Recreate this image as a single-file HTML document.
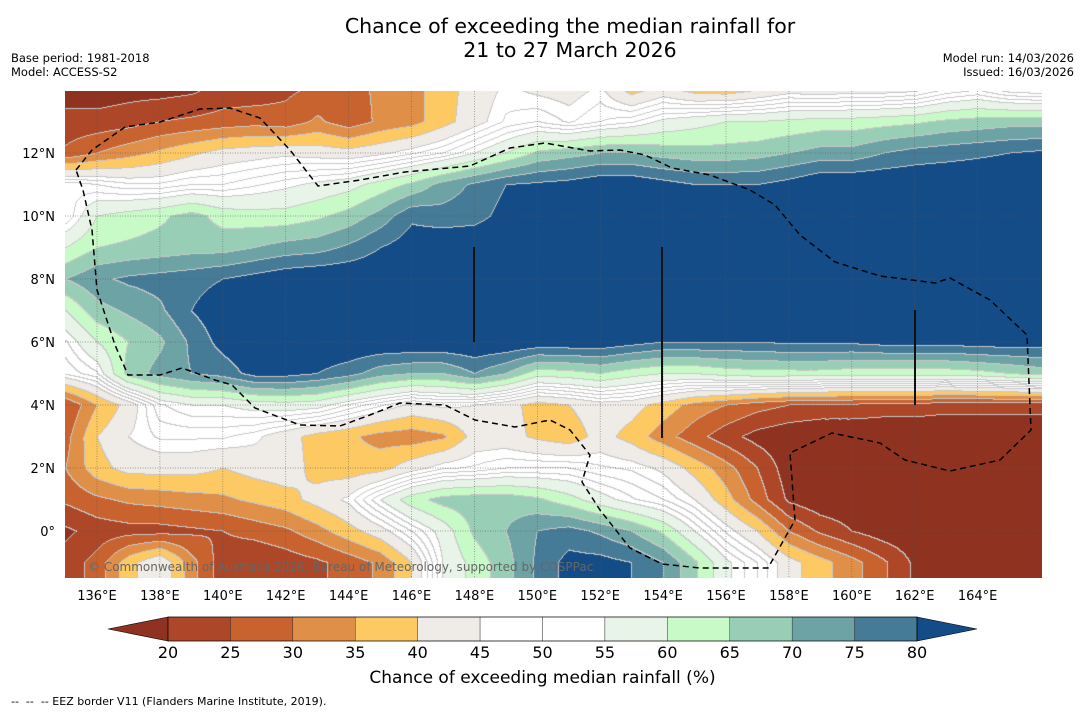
<!DOCTYPE html>
<html><head><meta charset="utf-8">
<style>
html,body{margin:0;padding:0;background:#fff;}
body{width:1085px;height:713px;position:relative;overflow:hidden;font-family:"DejaVu Sans","Liberation Sans",sans-serif;}
#map{position:absolute;left:65px;top:91px;}
#ov{position:absolute;left:0;top:0;}
.t{position:absolute;white-space:nowrap;color:#000;}
</style></head>
<body>
<div class="t" style="left:0;width:1140px;top:14px;text-align:center;font-size:20.5px;line-height:24px;">Chance of exceeding the median rainfall for<br>21 to 27 March 2026</div>
<div class="t" style="left:11px;top:51px;font-size:11.5px;line-height:14px;">Base period: 1981-2018<br>Model: ACCESS-S2</div>
<div class="t" style="right:11px;top:51px;font-size:11.5px;line-height:14px;text-align:right;">Model run: 14/03/2026<br>Issued: 16/03/2026</div>
<canvas id="map" width="977" height="487"></canvas>
<svg id="ov" width="1085" height="713"></svg>
<div class="t" style="left:0;width:1085px;text-align:center;top:668px;font-size:17px;">Chance of exceeding median rainfall (%)</div>
<div class="t" style="left:11px;top:695px;font-size:11px;">--&nbsp; --&nbsp; -- EEZ border V11 (Flanders Marine Institute, 2019).</div>
<script>
const lons=[135,136,137,138,139,140,141,142,143,144,145,146,147,148,149,150,151,152,153,154,155,156,157,158,159,160,161,162,163,164,165,166];
const lats=[14,13,12,11,10,9,8,7,6,5,4,3,2,1,0,-1];
const row14=[17,17,18,18,19,22,22,24,26,28,31,33,38,42,46,44,43,46,38,42,38,37,40,43,42,43,43,44,48,50,46,45];
const row13=[22,22,23,25,26,27,28,27,31,27,31,33,38,43,48,50,47,50,52,56,58,60,60,61,62,62,63,64,66,67,68,68];
const row12=[26,30,33,36,39,42,43,44,43,42,44,47,50,55,60,66,68,70,70,68,67,67,68,70,72,72,75,77,78,79,80,81];
const row11=[52,50,48,48,50,50,52,54,56,58,62,66,72,76,80,81,82,84,84,82,80,80,80,82,85,85,85,85,85,85,85,85];
const row10=[50,60,62,64,67,63,62,62,64,67,72,79,77,78,82,85,85,85,85,85,85,85,85,85,85,85,85,85,85,85,85,85];
const row9=[60,65,66,67,68,68,70,72,73,76,80,83,85,85,85,85,85,85,85,85,85,85,85,85,85,85,85,85,85,85,85,85];
const row8=[70,74,76,77,78,80,82,84,85,85,85,85,85,85,85,85,85,85,85,85,85,85,85,85,85,85,85,85,85,85,85,85];
const row7=[60,68,71,74,80,84,85,85,85,85,85,85,85,85,85,85,85,85,85,85,85,85,85,85,85,85,85,85,85,85,85,85];
const row6=[52,60,65,69,76,82,85,85,85,85,85,85,85,85,85,84,84,84,82,80,80,80,80,81,81,81,82,82,82,83,83,83];
const row5=[48,52,67,72,75,77,82,82,80,77,72,70,70,75,70,62,63,65,62,60,60,62,63,63,63,62,62,62,62,63,65,67];
const row4=[25,35,42,52,55,55,57,58,57,52,48,44,46,45,42,38,40,43,42,38,33,30,27,25,24,24,23,23,22,22,22,22];
const row3=[28,40,45,48,48,48,46,42,38,36,33,32,34,42,42,39,37,42,38,32,27,22,18,16,15,15,15,15,15,15,15,15];
const row2=[30,38,42,42,42,40,42,43,38,37,38,43,47,48,50,50,50,48,47,44,38,32,25,17,15,15,15,15,15,15,15,15];
const row1=[26,29,31,32,33,34,36,38,42,46,55,63,67,68,68,66,62,57,53,50,45,37,28,19,16,16,16,16,16,16,16,16];
const row0=[19,22,23,23,24,25,27,29,33,38,43,50,57,66,70,75,77,74,70,64,55,47,40,30,24,20,17,16,16,16,16,16];
const rowM1=[22,27,38,45,32,22,20,22,24,27,31,40,55,62,68,76,82,82,80,75,66,56,50,42,37,32,26,19,17,16,16,16];
const levels=[20,25,30,35,40,45,50,55,60,65,70,75,80];
const colors=['#8f3320','#ad4727','#c8622f','#df8f47','#fdc963','#efebe6','#ffffff','#ffffff','#e8f4e8','#c8fac8','#99ceb6','#6ea3a6','#467b98','#144c87'];
const lonTicks=[136,138,140,142,144,146,148,150,152,154,156,158,160,162,164];
const latTicks=[12,10,8,6,4,2,0];

const grid=[row14,row13,row12,row11,row10,row9,row8,row7,row6,row5,row4,row3,row2,row1,row0,rowM1];
const xOf=lon=>97+(lon-136)*31.45;
const yOf=lat=>531-lat*31.5;
function cls(v){let c=0;for(const l of levels){if(v>=l)c++;}return c;}
function hex(h){return [parseInt(h.slice(1,3),16),parseInt(h.slice(3,5),16),parseInt(h.slice(5,7),16)];}
const rgb=colors.map(hex);
function val(lon,lat){
  let fi=(lon-lons[0]);fi=Math.max(0,Math.min(lons.length-1.0001,fi));
  let fj=(lats[0]-lat);fj=Math.max(0,Math.min(lats.length-1.0001,fj));
  const i=Math.floor(fi),j=Math.floor(fj),a=fi-i,b=fj-j;
  const v00=grid[j][i],v10=grid[j][i+1],v01=grid[j+1][i],v11=grid[j+1][i+1];
  return v00*(1-a)*(1-b)+v10*a*(1-b)+v01*(1-a)*b+v11*a*b;
}
const cv=document.getElementById('map');const ctx=cv.getContext('2d');
const W=cv.width,H=cv.height;const img=ctx.createImageData(W,H);
const C=new Int16Array(W*H);const F=new Int16Array(W*H);
for(let y=0;y<H;y++){for(let x=0;x<W;x++){
  const lon=136+(x+65-97)/31.45, lat=(531-(y+91))/31.5;
  const v=val(lon,lat);C[y*W+x]=cls(v);F[y*W+x]=Math.floor(v/2.5);
}}
for(let y=0;y<H;y++){for(let x=0;x<W;x++){
  const k=y*W+x;let c=rgb[C[k]];
  const cedge=(x<W-1&&C[k]!==C[k+1])||(y<H-1&&C[k]!==C[k+W]);
  const inWhite=C[k]>=6&&C[k]<=7;
  const fedge=inWhite&&((x<W-1&&F[k]!==F[k+1])||(y<H-1&&F[k]!==F[k+W]));
  if(cedge||fedge){c=[200,200,200];}
  img.data[4*k]=c[0];img.data[4*k+1]=c[1];img.data[4*k+2]=c[2];img.data[4*k+3]=255;
}}
ctx.putImageData(img,0,0);

const NS='http://www.w3.org/2000/svg';const svg=document.getElementById('ov');
const FF='DejaVu Sans, Liberation Sans, sans-serif';
function el(t,a,txt){const e=document.createElementNS(NS,t);for(const k in a)e.setAttribute(k,a[k]);if(txt!==undefined)e.textContent=txt;svg.appendChild(e);return e;}
lonTicks.forEach(l=>{
  const g=el('line',{x1:xOf(l),x2:xOf(l),y1:91,y2:578,stroke:'#555','stroke-width':0.7,'stroke-dasharray':'1,1.5','stroke-opacity':0.7});
  
  
  const t=el('text',{x:xOf(l),y:600,'font-size':13,'text-anchor':'middle','font-family':FF},l+'°E');
  
  
});
latTicks.forEach(l=>{
  const g=el('line',{x1:65,x2:1042,y1:yOf(l),y2:yOf(l),stroke:'#555','stroke-width':0.7,'stroke-dasharray':'1,1.5','stroke-opacity':0.7});
  
  
  const t=el('text',{x:55,y:yOf(l)+5,'font-size':13,'text-anchor':'end','font-family':FF},l===0?'0°':l+'°N');
  
  
});
const eez=[[76,170],[92,150],[125,127],[160,122],[200,109],[230,108],[260,118],[290,150],[318,186],[360,180],[405,172],[470,166],[510,148],[545,143],[590,151],[620,150],[645,155],[672,168],[710,175],[750,190],[775,205],[800,235],[835,262],[880,276],[935,283],[950,278],[990,300],[1027,335],[1031,430],[1000,460],[950,471],[905,460],[880,443],[832,433],[790,453],[795,520],[768,568],[700,568],[662,564],[630,548],[600,510],[582,482],[590,455],[570,430],[550,420],[515,427],[475,420],[445,405],[400,403],[370,415],[340,426],[300,425],[255,408],[232,385],[215,380],[182,368],[160,375],[128,375],[115,345],[97,290],[92,230],[83,190],[76,170]];
const ep=el('polyline',{points:eez.map(p=>p.join(',')).join(' '),fill:'none',stroke:'#000','stroke-width':1.5,'stroke-dasharray':'6,4'});


[[474,247,342],[662,247,438],[915,310,405]].forEach(b=>{
  const l=el('line',{x1:b[0],x2:b[0],y1:b[1],y2:b[2],stroke:'#111','stroke-width':2});
  
  
});
const cp=el('text',{x:88,y:571,'font-size':12,fill:'#666','font-family':FF},'© Commonwealth of Australia 2026, Bureau of Meteorology, supported by COSPPac');


const cbX0=168,cbX1=917,cbY=617,cbH=24,seg=(cbX1-cbX0)/(levels.length-1);
const lt=el('polygon',{points:`${cbX0},${cbY} 108,${cbY+cbH/2} ${cbX0},${cbY+cbH}`,fill:colors[0],stroke:'#000','stroke-width':0.6});


for(let i=0;i<levels.length-1;i++){
  const r=el('rect',{x:cbX0+i*seg,y:cbY,width:seg,height:cbH,fill:colors[i+1],stroke:'#222','stroke-width':0.4});
  
  
}
const rt=el('polygon',{points:`${cbX1},${cbY} 977,${cbY+cbH/2} ${cbX1},${cbY+cbH}`,fill:colors[13],stroke:'#000','stroke-width':0.6});


const fr=el('rect',{x:cbX0,y:cbY,width:cbX1-cbX0,height:cbH,fill:'none',stroke:'#000','stroke-width':0.6});


levels.forEach((l,i)=>{
  const t=el('text',{x:cbX0+i*seg,y:658,'font-size':16,'text-anchor':'middle','font-family':FF},String(l));
  
  
});
</script>
</body></html>
